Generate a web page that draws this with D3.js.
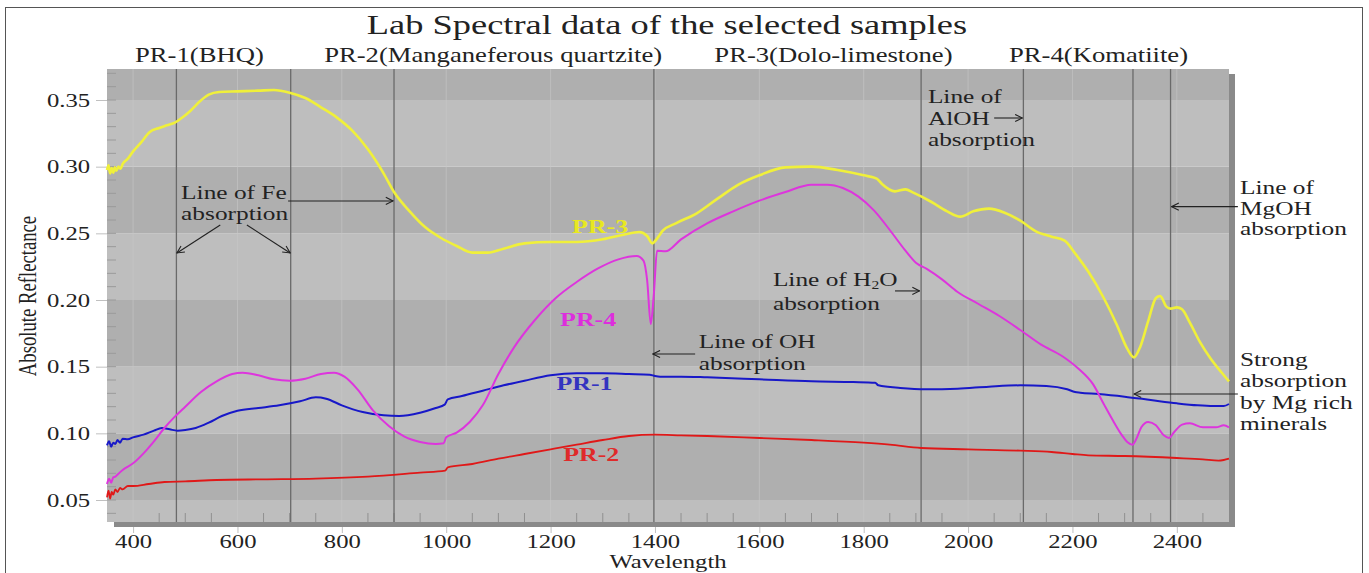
<!DOCTYPE html>
<html><head><meta charset="utf-8">
<script src="https://cdn.jsdelivr.net/npm/d3@7"></script>
<style>body{margin:0;background:#fff}svg{display:block}</style>
</head><body>
<svg id="c" width="1369" height="573"></svg>
<script>
// ---------- data ----------
const xTicks = [400,600,800,1000,1200,1400,1600,1800,2000,2200,2400];
const yTicks = [0.05,0.10,0.15,0.20,0.25,0.30,0.35];
const absorptionLines = [483,702,900,1398,1910,2106,2316,2388];

const pr1Wave = [350,354,358,362,366,370,375,380,390,400,420,440,455,470,485,500,520,545,570,600,640,680,720,750,770,800,840,880,910,950,980,997,1003,1030,1070,1110,1150,1200,1250,1300,1350,1390,1400,1410,1450,1500,1600,1700,1780,1822,1828,1870,1920,1980,2040,2100,2150,2190,2205,2215,2250,2300,2350,2400,2440,2470,2490,2500];
const pr1Val  = [.091,.094,.090,.093,.092,.095,.093,.096,.0955,.097,.099,.102,.104,.103,.102,.1025,.104,.108,.113,.117,.119,.121,.124,.127,.126,.121,.116,.1135,.113,.1155,.119,.1215,.1255,.128,.132,.136,.1395,.1435,.145,.145,.1445,.144,.143,.1425,.1425,.142,.1405,.139,.1385,.138,.136,.134,.133,.1335,.135,.136,.1355,.133,.131,.1305,.1295,.1275,.125,.1225,.121,.1205,.1205,.122];

const pr2Wave = [350,353,356,359,362,366,370,375,380,390,400,430,460,500,560,650,750,850,950,998,1003,1050,1100,1150,1200,1250,1300,1350,1400,1450,1500,1600,1700,1800,1850,1910,2000,2100,2160,2200,2230,2300,2400,2450,2480,2490,2500];
const pr2Val  = [.052,.057,.051,.056,.054,.058,.056,.059,.058,.0605,.0605,.062,.0635,.064,.065,.0655,.066,.0675,.0705,.072,.0745,.077,.081,.0845,.088,.0915,.095,.098,.099,.0985,.098,.0965,.095,.093,.0915,.089,.088,.087,.086,.0845,.0835,.083,.0815,.0805,.0795,.080,.081];

const pr3Wave = [350,353,356,359,362,365,368,372,376,380,390,400,415,432,450,465,480,495,510,528,545,565,600,640,670,700,730,760,790,820,850,880,900,930,960,990,1020,1050,1080,1110,1150,1200,1250,1300,1340,1370,1385,1395,1402,1415,1440,1480,1520,1560,1600,1650,1700,1750,1800,1825,1835,1860,1880,1895,1930,1960,1985,2010,2040,2070,2100,2130,2160,2185,2205,2230,2260,2285,2305,2318,2330,2345,2360,2368,2380,2388,2400,2410,2425,2445,2465,2485,2500];
const pr3Val  = [.2975,.301,.295,.299,.2955,.2995,.297,.300,.2985,.302,.306,.3115,.318,.326,.329,.331,.333,.337,.342,.349,.354,.356,.3565,.357,.3575,.3555,.3515,.3445,.337,.327,.313,.295,.281,.2665,.2545,.2465,.2405,.2355,.2355,.2385,.2425,.2435,.2435,.2455,.249,.251,.248,.2425,.245,.252,.2575,.265,.276,.2865,.2935,.2995,.300,.2975,.2935,.291,.287,.2815,.283,.2805,.2735,.2665,.2625,.2665,.2685,.2655,.2595,.2515,.2475,.2445,.235,.2215,.2015,.1815,.1635,.157,.165,.184,.2015,.203,.195,.1935,.1945,.193,.183,.168,.156,.146,.139];

const pr4Wave = [350,354,358,362,366,370,380,400,420,440,460,480,500,530,560,590,610,640,670,700,730,760,785,805,830,860,890,920,950,980,995,1000,1020,1045,1070,1100,1130,1170,1210,1250,1290,1330,1365,1378,1385,1392,1398,1404,1420,1450,1500,1550,1600,1650,1700,1730,1760,1790,1820,1850,1880,1900,1920,1950,1980,2020,2060,2100,2140,2180,2210,2240,2260,2280,2295,2305,2315,2322,2332,2345,2360,2375,2385,2395,2410,2425,2450,2475,2490,2500];
const pr4Val  = [.062,.066,.063,.067,.0675,.069,.0725,.0775,.085,.094,.104,.1125,.12,.131,.139,.1445,.1455,.1435,.1405,.1395,.141,.1445,.1455,.1425,.133,.117,.1055,.0975,.0935,.092,.0925,.097,.1005,.1085,.121,.1445,.1645,.185,.2015,.2135,.2235,.2305,.233,.2295,.215,.182,.205,.237,.2365,.2455,.2575,.2665,.2745,.281,.2865,.2865,.284,.2775,.267,.2525,.237,.228,.2235,.2155,.206,.197,.188,.1775,.1665,.158,.149,.1365,.122,.108,.0985,.0935,.0915,.0955,.1045,.1085,.106,.0985,.0965,.101,.1065,.1075,.1045,.1045,.106,.1045];

const seriesNames  = ["PR-1","PR-2","PR-3","PR-4"];
const seriesColors = ["#1818c8","#e01818","#f0f03a","#dd35dd"];
const labelColors  = ["#3434c0","#e02a2a","#e8e820","#dd2edd"];
const seriesWaves  = [pr1Wave,pr2Wave,pr3Wave,pr4Wave];
const seriesVals   = [pr1Val,pr2Val,pr3Val,pr4Val];
const seriesWidth  = [2,1.8,2.6,2];
// series label anchors (wavelength, reflectance)
const labelWave = [1265,1278,1295,1272];
const labelVal  = [0.1325,0.0795,0.2503,0.1805];

const sampleHeads = ["PR-1(BHQ)","PR-2(Manganeferous quartzite)","PR-3(Dolo-limestone)","PR-4(Komatiite)"];
const headWave = [527,1090,1742,2250];

// ---------- layout ----------
const SX = 1.3;
const FONT = "'Liberation Serif','Times New Roman',serif";
const L = 107, R = 1229, T = 69, B = 522;
const svg = d3.select("#c");
const x = d3.scaleLinear().domain([350,2500]).range([L,R]);
const y = d3.scaleLinear().domain([0.0335,0.37325]).range([B,T]);

function stext(g, px, py, str, size, opts={}) {
  return g.append("text")
    .attr("transform", `translate(${px},${py}) scale(${opts.sx||SX},1)`)
    .attr("text-anchor", opts.anchor || "start")
    .attr("font-family", FONT)
    .attr("font-size", size)
    .attr("font-weight", opts.bold ? "bold" : "normal")
    .attr("fill", opts.fill || "#222")
    .text(str);
}

// frame
svg.append("rect").attr("x",5.5).attr("y",7.5).attr("width",1357).attr("height",580)
  .attr("fill","none").attr("stroke","#555").attr("stroke-width",1);

// shadow
svg.append("rect").attr("x",114).attr("y",B).attr("width",R+6-114).attr("height",5).attr("fill","#8a8a8a");
svg.append("rect").attr("x",R).attr("y",T+5).attr("width",6).attr("height",B+5-T-5).attr("fill","#8a8a8a");

// bands
const edges = [y.domain()[0], ...yTicks, y.domain()[1]];
for (let i=0;i<edges.length-1;i++){
  svg.append("rect").attr("x",L).attr("width",R-L)
    .attr("y",y(edges[i+1])).attr("height",y(edges[i])-y(edges[i+1]))
    .attr("fill", i%2===0 ? "#bebebe" : "#afafaf");
}
// faint vertical grid
svg.append("g").selectAll("line").data(xTicks).join("line")
  .attr("x1",d=>x(d)).attr("x2",d=>x(d)).attr("y1",T).attr("y2",B)
  .attr("stroke","#c8c8c8").attr("stroke-width",1).attr("opacity",0.6);

// minor ticks bottom (inside)
const minorX = d3.range(400,2500,50).filter(d=>d%200!==0);
svg.append("g").selectAll("line").data(minorX).join("line")
  .attr("x1",d=>x(d)).attr("x2",d=>x(d)).attr("y1",B).attr("y2",B-9)
  .attr("stroke","#909090").attr("stroke-width",1);
// minor ticks left (inside)
const minorY = d3.range(0.04,0.371,0.01);
svg.append("g").selectAll("line").data(minorY).join("line")
  .attr("x1",L).attr("x2",L+9).attr("y1",d=>y(d)).attr("y2",d=>y(d))
  .attr("stroke","#9a9a9a").attr("stroke-width",1);

// absorption lines
svg.append("g").selectAll("line").data(absorptionLines).join("line")
  .attr("x1",d=>x(d)).attr("x2",d=>x(d)).attr("y1",T).attr("y2",B)
  .attr("stroke","#6a6a6a").attr("stroke-width",1.3);

// axes
const ax = svg.append("g").attr("transform",`translate(0,${B+5})`)
  .call(d3.axisBottom(x).tickValues(xTicks).tickSize(6).tickPadding(2).tickFormat(d3.format("d")));
ax.select(".domain").remove();
ax.selectAll("line").attr("stroke","#c0c0c0");
ax.selectAll("text").attr("font-family",FONT).attr("font-size",19).attr("fill","#222")
  .attr("transform",`scale(${SX},1)`).attr("x",0);

const ay = svg.append("g").attr("transform",`translate(${L},0)`)
  .call(d3.axisLeft(y).tickValues(yTicks).tickSize(11).tickPadding(2).tickFormat(d3.format(".2f")));
ay.select(".domain").remove();
ay.selectAll("line").attr("stroke","#c0c0c0");
ay.selectAll("text").attr("font-family",FONT).attr("font-size",19).attr("fill","#222")
  .attr("transform",`scale(${SX},1)`);

// series
const line = d3.line().x(d=>x(d[0])).y(d=>y(d[1])).curve(d3.curveMonotoneX);
const order = [1,0,3,2];
order.forEach(i=>{
  const pts = seriesWaves[i].map((w,j)=>[w,seriesVals[i][j]]);
  svg.append("path").datum(pts).attr("d",line).attr("fill","none")
    .attr("stroke",seriesColors[i]).attr("stroke-width",seriesWidth[i])
    .attr("stroke-linejoin","round");
});
seriesNames.forEach((n,i)=>{
  stext(svg, x(labelWave[i]), y(labelVal[i]), n, 18.5, {anchor:"middle", bold:true, fill:labelColors[i], sx:1.4});
});

// titles
stext(svg, 667, 34, "Lab Spectral data of the selected samples", 28, {anchor:"middle"});
sampleHeads.forEach((h,i)=> stext(svg, x(headWave[i]), 62, h, 20.5, {anchor:"middle"}));
stext(svg, 668, 568, "Wavelength", 19, {anchor:"middle"});
// y label (stretched across x)
svg.append("text")
  .attr("transform",`translate(36,296) scale(${SX},1) rotate(-90)`)
  .attr("text-anchor","middle").attr("font-family",FONT).attr("font-size",18.7).attr("fill","#222")
  .text("Absolute Reflectance");

// annotations (data coordinates)
svg.append("defs").append("marker").attr("id","ah").attr("viewBox","0 0 10 10")
  .attr("refX",9).attr("refY",5).attr("markerWidth",9).attr("markerHeight",9)
  .attr("markerUnits","userSpaceOnUse").attr("orient","auto")
  .append("path").attr("d","M1,1 L9,5 L1,9").attr("fill","none").attr("stroke","#222").attr("stroke-width",1.2);

const annoTexts = [
  [492,0.2758,"Line of Fe"],[492,0.2600,"absorption"],
  [1484,0.1640,"Line of OH"],[1484,0.1475,"absorption"],
  [1626,0.1928,"absorption"],
  [1923,0.3478,"Line of"],[1923,0.3313,"AlOH"],[1923,0.3155,"absorption"],
  [2521,0.2795,"Line of"],[2521,0.2638,"MgOH"],[2521,0.2488,"absorption"],
  [2521,0.1505,"Strong"],[2521,0.1348,"absorption"],[2521,0.1183,"by Mg rich"],[2521,0.1025,"minerals"]
];
annoTexts.forEach(a=>stext(svg, x(a[0]), y(a[1]), a[2], 19.5));
// H2O with subscript
const h2o = svg.append("text")
  .attr("transform",`translate(${x(1626)},${y(0.2105)}) scale(${SX},1)`)
  .attr("font-family",FONT).attr("font-size",19.5).attr("fill","#222");
h2o.append("tspan").text("Line of H");
h2o.append("tspan").attr("font-size",12).attr("dy",3).text("2");
h2o.append("tspan").attr("dy",-3).text("O");

const arrows = [
  [697,0.2743,898,0.2743],
  [567,0.2563,484,0.2353],
  [618,0.2563,701,0.2353],
  [1477,0.1595,1396,0.1595],
  [1860,0.2068,1907,0.2068],
  [2050,0.3365,2104,0.3365],
  [2517,0.2700,2390,0.2700],
  [2517,0.1295,2318,0.1295]
];
svg.append("g").selectAll("line").data(arrows).join("line")
  .attr("x1",d=>x(d[0])).attr("y1",d=>y(d[1])).attr("x2",d=>x(d[2])).attr("y2",d=>y(d[3]))
  .attr("stroke","#222").attr("stroke-width",1.1).attr("marker-end","url(#ah)");
</script>
</body></html>
